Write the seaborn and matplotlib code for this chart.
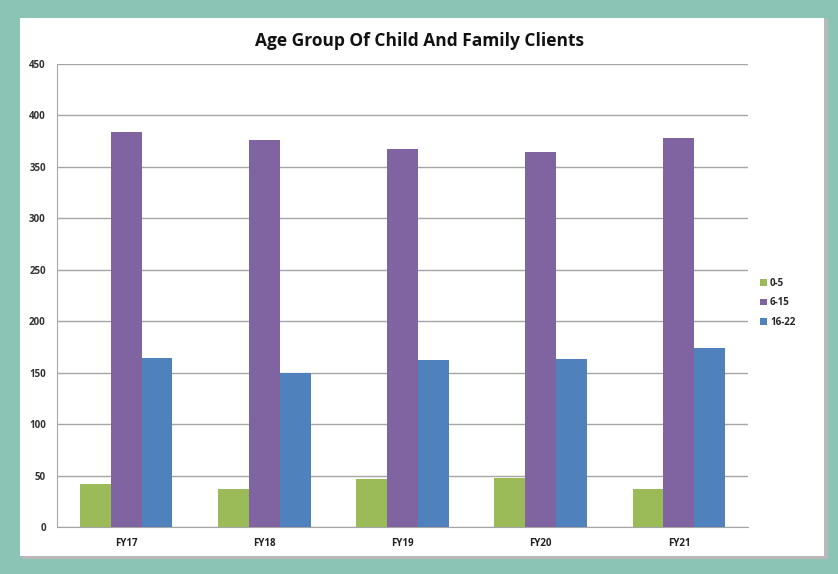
import seaborn as sns
import matplotlib.pyplot as plt
import matplotlib.patches as mpatches
import pandas as pd

years = ['FY17', 'FY18', 'FY19', 'FY20', 'FY21']
age_0_5 = [42, 37, 47, 48, 37]
age_6_15 = [384, 376, 367, 364, 378]
age_16_22 = [164, 150, 162, 163, 174]
groups = ['0-5', '6-15', '16-22']
colors = ['#9BBB59', '#8064A2', '#4F81BD']

df = pd.DataFrame({
    'year': years * 3,
    'group': [groups[0]] * 5 + [groups[1]] * 5 + [groups[2]] * 5,
    'count': age_0_5 + age_6_15 + age_16_22,
})

sns.set_style('white')
plt.rcParams['font.family'] = ['Open Sans', 'DejaVu Sans']

fig = plt.figure(figsize=(8.38, 5.74), dpi=100)
fig.patch.set_facecolor('#8BC3B5')
W, H = 838, 574
# shadow + white panel
fig.patches.append(mpatches.Rectangle((22 / W, 1 - 559 / H), 806 / W, 540 / H,
                                      transform=fig.transFigure, facecolor='#B8B8B8',
                                      edgecolor='none', zorder=-2))
fig.patches.append(mpatches.Rectangle((20 / W, 1 - 556 / H), 804 / W, 538 / H,
                                      transform=fig.transFigure, facecolor='white',
                                      edgecolor='none', zorder=-1))

ax = fig.add_axes([57 / W, 1 - 527 / H, 691 / W, 463 / H])
ax.set_facecolor('none')
sns.barplot(data=df, x='year', y='count', hue='group', palette=colors,
            width=0.67, saturation=1, linewidth=0, ax=ax, zorder=3)

ax.set_ylim(0, 450)
ax.set_yticks(range(0, 451, 50))
ax.yaxis.grid(True, color='#A6A6A6', linewidth=1, zorder=0)
ax.set_axisbelow(True)
for s in ['top', 'right']:
    ax.spines[s].set_visible(False)
ax.spines['left'].set_color('#A6A6A6')
ax.spines['bottom'].set_color('#A6A6A6')
ax.tick_params(axis='both', length=0, labelsize=7, colors='#222222', pad=8)
for lab in ax.get_xticklabels():
    lab.set_fontweight('bold')
for lab in ax.get_yticklabels():
    lab.set_fontweight('bold')
    lab.set_color('#333333')
ax.set_xlabel('')
ax.set_ylabel('')

fig.text(0.5, 1 - 41 / H, 'Age Group Of Child And Family Clients', ha='center', va='center',
         fontsize=12.5, fontweight='bold', color='#111111')

ax.legend(loc='center left', bbox_to_anchor=(1.005, 0.484), frameon=False,
          handlelength=0.7, handleheight=0.7, handletextpad=0.3, labelspacing=0.9,
          prop={'weight': 'bold', 'size': 7})

fig.savefig('out.png', dpi=100, facecolor=fig.get_facecolor())
